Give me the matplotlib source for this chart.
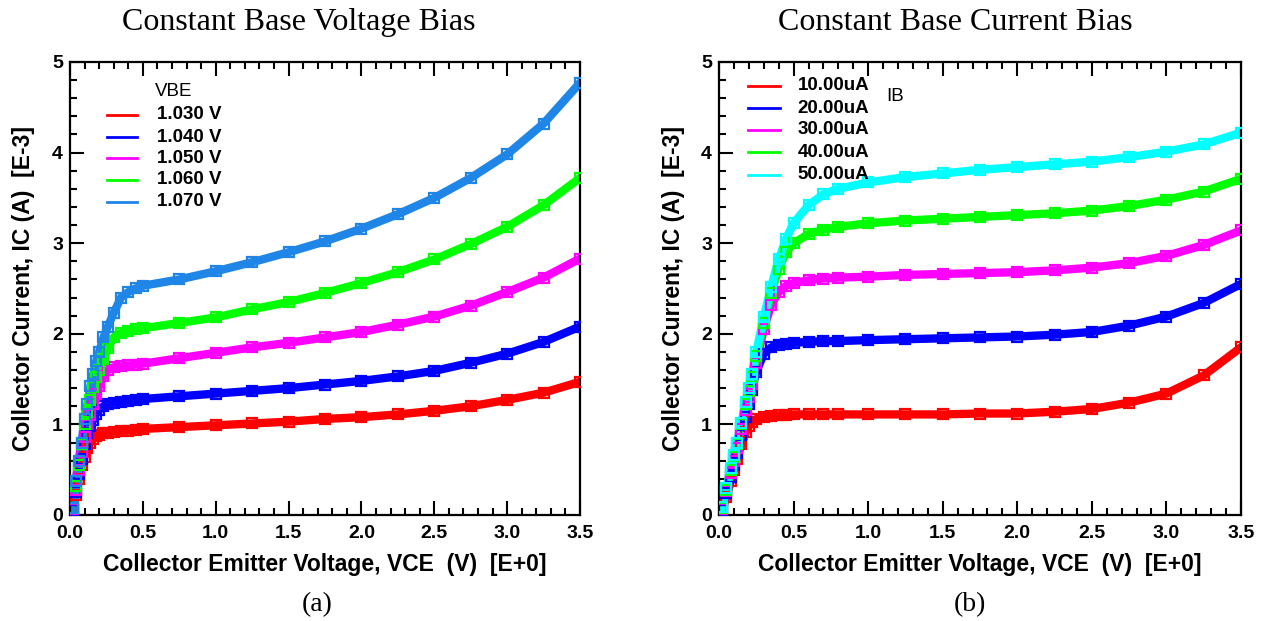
import numpy as np
import matplotlib.pyplot as plt
from matplotlib.lines import Line2D
from matplotlib.ticker import MultipleLocator

# ---- data (IC in mA, VCE in V) ----

# (a) constant base voltage bias
vce_a = [0.02, 0.04, 0.06, 0.08, 0.10, 0.12, 0.14, 0.16, 0.18, 0.20, 0.23, 0.26, 0.30,
         0.35, 0.40, 0.45, 0.5, 0.75, 1.0, 1.25, 1.5, 1.75, 2.0, 2.25, 2.5, 2.75, 3.0, 3.25, 3.5]
vbe_labels = ['1.030 V', '1.040 V', '1.050 V', '1.060 V', '1.070 V']
ic_1030 = [0.05, 0.22, 0.40, 0.55, 0.64, 0.74, 0.80, 0.84, 0.87, 0.88, 0.90, 0.91, 0.92,
           0.93, 0.93, 0.94, 0.95, 0.97, 0.99, 1.01, 1.03, 1.06, 1.08, 1.11, 1.15, 1.20, 1.27, 1.35, 1.47]
ic_1040 = [0.06, 0.25, 0.45, 0.62, 0.78, 0.90, 0.98, 1.05, 1.12, 1.16, 1.20, 1.23, 1.24,
           1.25, 1.26, 1.27, 1.28, 1.31, 1.34, 1.37, 1.40, 1.44, 1.48, 1.53, 1.59, 1.68, 1.78, 1.91, 2.08]
ic_1050 = [0.07, 0.28, 0.50, 0.70, 0.86, 1.00, 1.10, 1.22, 1.34, 1.42, 1.53, 1.60, 1.63,
           1.64, 1.65, 1.66, 1.67, 1.73, 1.79, 1.85, 1.90, 1.96, 2.02, 2.10, 2.19, 2.31, 2.46, 2.62, 2.83]
ic_1060 = [0.08, 0.32, 0.55, 0.78, 1.00, 1.14, 1.27, 1.41, 1.52, 1.60, 1.72, 1.84, 1.96,
           2.01, 2.03, 2.05, 2.06, 2.12, 2.18, 2.27, 2.35, 2.45, 2.56, 2.68, 2.82, 2.99, 3.18, 3.42, 3.72]
ic_1070 = [0.08, 0.38, 0.60, 0.80, 1.06, 1.22, 1.42, 1.56, 1.70, 1.80, 1.96, 2.08, 2.23,
           2.40, 2.46, 2.50, 2.53, 2.60, 2.69, 2.79, 2.90, 3.02, 3.16, 3.32, 3.50, 3.72, 3.98, 4.32, 4.77]

# (b) constant base current bias
vce_b = [0.02, 0.05, 0.08, 0.10, 0.12, 0.15, 0.18, 0.20, 0.22, 0.25, 0.30, 0.35, 0.40, 0.45,
         0.50, 0.60, 0.70, 0.80, 1.0, 1.25, 1.5, 1.75, 2.0, 2.25, 2.5, 2.75, 3.0, 3.25, 3.5]
ib_labels = ['10.00uA', '20.00uA', '30.00uA', '40.00uA', '50.00uA']
ic_10u = [0.05, 0.20, 0.38, 0.50, 0.62, 0.78, 0.92, 0.98, 1.03, 1.06, 1.08, 1.09, 1.10, 1.10,
          1.11, 1.11, 1.11, 1.11, 1.11, 1.11, 1.11, 1.12, 1.12, 1.14, 1.17, 1.24, 1.34, 1.54, 1.85]
ic_20u = [0.06, 0.24, 0.42, 0.55, 0.68, 0.88, 1.08, 1.22, 1.38, 1.58, 1.78, 1.85, 1.88, 1.89,
          1.90, 1.91, 1.92, 1.92, 1.93, 1.94, 1.95, 1.96, 1.97, 1.99, 2.02, 2.09, 2.19, 2.34, 2.55]
ic_30u = [0.07, 0.26, 0.46, 0.60, 0.74, 0.95, 1.16, 1.30, 1.45, 1.68, 2.05, 2.32, 2.46, 2.53,
          2.56, 2.59, 2.61, 2.62, 2.63, 2.65, 2.66, 2.67, 2.68, 2.70, 2.73, 2.78, 2.86, 2.98, 3.14]
ic_40u = [0.08, 0.28, 0.50, 0.64, 0.78, 1.00, 1.22, 1.37, 1.52, 1.75, 2.12, 2.45, 2.72, 2.90,
          3.00, 3.10, 3.15, 3.18, 3.22, 3.25, 3.27, 3.29, 3.31, 3.33, 3.36, 3.41, 3.48, 3.57, 3.71]
ic_50u = [0.09, 0.30, 0.52, 0.66, 0.80, 1.02, 1.25, 1.40, 1.56, 1.80, 2.18, 2.52, 2.82, 3.05,
          3.22, 3.42, 3.54, 3.60, 3.67, 3.73, 3.77, 3.81, 3.84, 3.87, 3.90, 3.95, 4.01, 4.09, 4.22]

colors_a = ['#ff0000', '#0000ff', '#ff00ff', '#00ff00', '#1f86e8']
colors_b = ['#ff0000', '#0000ff', '#ff00ff', '#00ff00', '#00ffff']

sans = ['Liberation Sans', 'DejaVu Sans']
serif = ['Liberation Serif', 'DejaVu Serif']

fig = plt.figure(figsize=(12.65, 6.21), dpi=100)
ax1 = fig.add_axes([0.0553, 0.1707, 0.4032, 0.7295])
ax2 = fig.add_axes([0.5684, 0.1707, 0.4126, 0.7295])


def draw_curves(ax, x, curves, colors):
    for y, c in zip(curves, colors):
        ax.plot(x, y, color=c, lw=6, solid_joinstyle='round', zorder=2)
        ax.plot(x, y, ls='none', marker='s', ms=6.5, mfc='none', mec=c, mew=1.6, zorder=3)


def style_axes(ax):
    ax.set_xlim(0, 3.5)
    ax.set_ylim(0, 5)
    ax.xaxis.set_major_locator(MultipleLocator(0.5))
    ax.xaxis.set_minor_locator(MultipleLocator(0.1))
    ax.yaxis.set_major_locator(MultipleLocator(1))
    ax.yaxis.set_minor_locator(MultipleLocator(0.2))
    ax.xaxis.set_major_formatter(plt.FuncFormatter(lambda v, p: '%.1f' % v))
    ax.yaxis.set_major_formatter(plt.FuncFormatter(lambda v, p: '%d' % v))
    ax.tick_params(axis='x', which='both', direction='in', top=True, bottom=True, width=1.5, pad=7)
    ax.tick_params(axis='y', which='both', direction='in', left=True, right=False, width=1.5, pad=5)
    ax.tick_params(which='major', length=10)
    ax.tick_params(which='minor', length=5)
    for s in ax.spines.values():
        s.set_linewidth(1.6)
    for lab in ax.get_xticklabels() + ax.get_yticklabels():
        lab.set_family(sans)
        lab.set_fontweight('bold')
        lab.set_fontsize(14)
    ax.set_xlabel('Collector Emitter Voltage, VCE  (V)  [E+0]', family=sans,
                  fontweight='bold', fontsize=16.5, labelpad=8)
    ax.set_ylabel('Collector Current, IC (A)  [E-3]', family=sans,
                  fontweight='bold', fontsize=16.5, labelpad=12)


def draw_legend(ax, labels, colors, x0, x1, xt, ys):
    for lab, c, yy in zip(labels, colors, ys):
        ax.add_line(Line2D([x0, x1], [yy, yy], color=c, lw=2, transform=ax.transAxes))
        ax.text(xt, yy, lab, transform=ax.transAxes, family=sans, fontweight='bold',
                fontsize=13.5, va='center', ha='left')


draw_curves(ax1, vce_a, [ic_1030, ic_1040, ic_1050, ic_1060, ic_1070], colors_a)
style_axes(ax1)
draw_legend(ax1, vbe_labels, colors_a, 0.0725, 0.131, 0.171,
            [0.883, 0.834, 0.788, 0.740, 0.691])
ax1.text(0.167, 0.934, 'VBE', transform=ax1.transAxes, family=sans, fontsize=13.5, va='center')

draw_curves(ax2, vce_b, [ic_10u, ic_20u, ic_30u, ic_40u, ic_50u], colors_b)
style_axes(ax2)
draw_legend(ax2, ib_labels, colors_b, 0.0556, 0.117, 0.151,
            [0.947, 0.898, 0.850, 0.801, 0.751])
ax2.text(0.32, 0.923, 'IB', transform=ax2.transAxes, family=sans, fontsize=13.5, va='center')

fig.text(0.236, 0.963, 'Constant Base Voltage Bias', family=serif, fontsize=23, ha='center', va='center')
fig.text(0.755, 0.963, 'Constant Base Current Bias', family=serif, fontsize=23, ha='center', va='center')
fig.text(0.251, 0.027, '(a)', family=serif, fontsize=20, ha='center', va='center')
fig.text(0.767, 0.027, '(b)', family=serif, fontsize=20, ha='center', va='center')

fig.savefig('out.png', dpi=100)
